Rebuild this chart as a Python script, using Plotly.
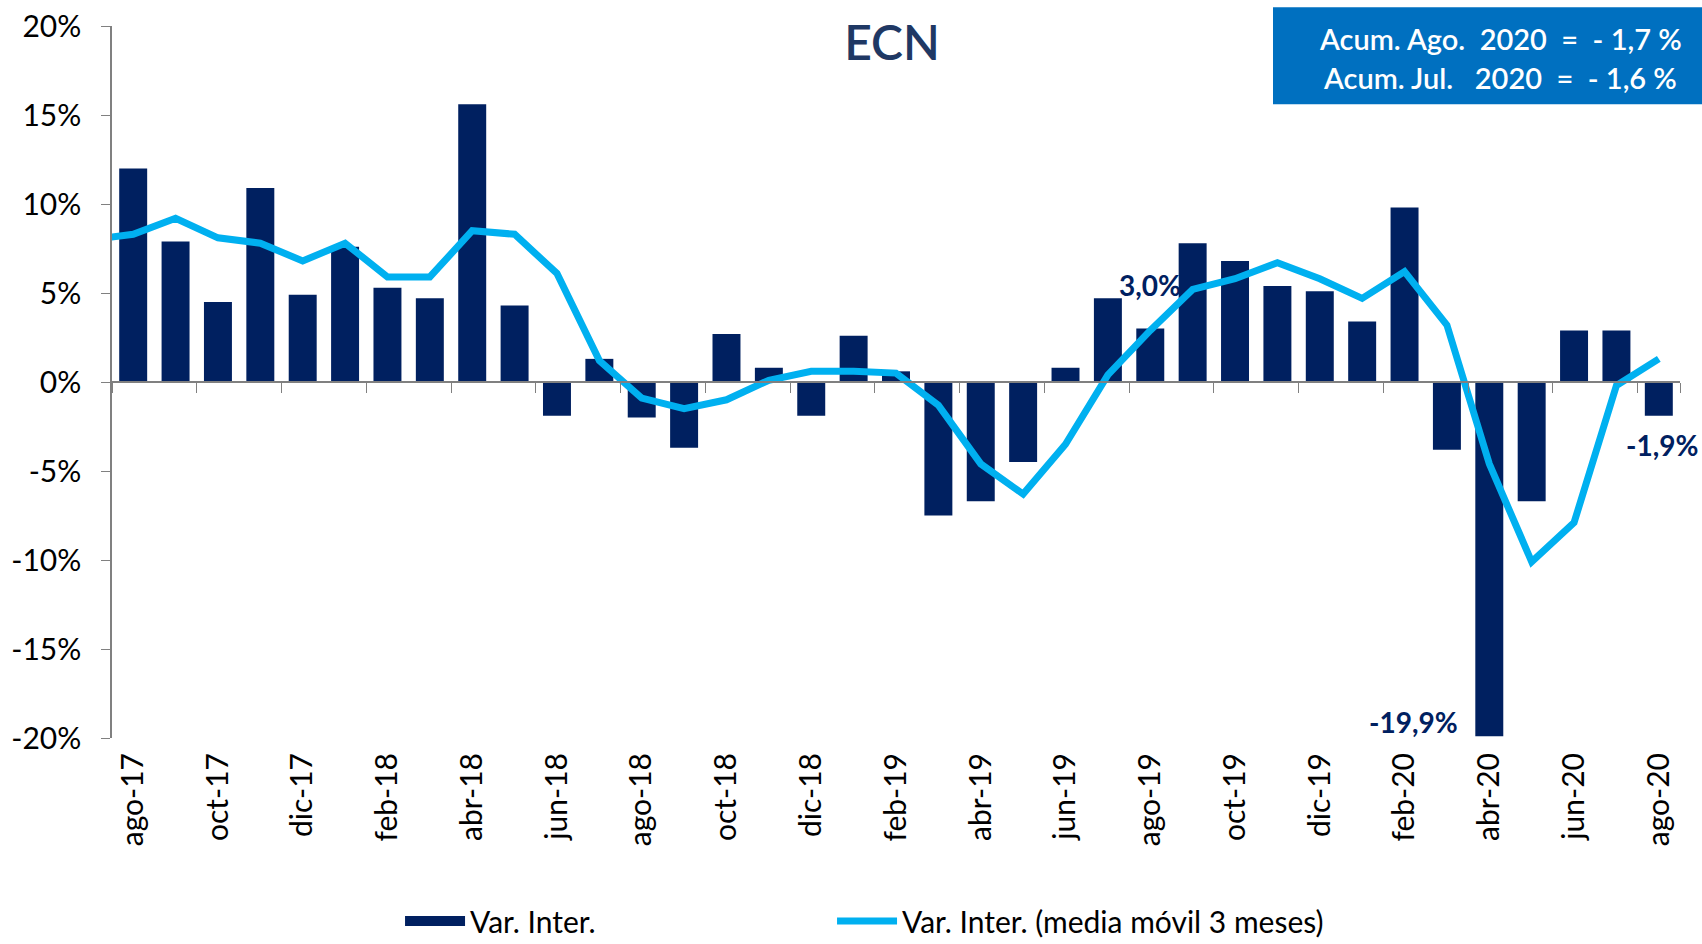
import plotly.graph_objects as go

months = ["ago-17","sep-17","oct-17","nov-17","dic-17","ene-18","feb-18","mar-18","abr-18","may-18",
          "jun-18","jul-18","ago-18","sep-18","oct-18","nov-18","dic-18","ene-19","feb-19","mar-19",
          "abr-19","may-19","jun-19","jul-19","ago-19","sep-19","oct-19","nov-19","dic-19","ene-20",
          "feb-20","mar-20","abr-20","may-20","jun-20","jul-20","ago-20"]

var_inter = [12.0, 7.9, 4.5, 10.9, 4.9, 7.6, 5.3, 4.7, 15.6, 4.3,
             -1.9, 1.3, -2.0, -3.7, 2.7, 0.8, -1.9, 2.6, 0.6, -7.5,
             -6.7, -4.5, 0.8, 4.7, 3.0, 7.8, 6.8, 5.4, 5.1, 3.4,
             9.8, -3.8, -19.9, -6.7, 2.9, 2.9, -1.9]

media_movil = [8.3, 9.2, 8.1, 7.8, 6.8, 7.8, 5.9, 5.9, 8.5, 8.3,
               6.1, 1.2, -0.9, -1.5, -1.0, 0.1, 0.6, 0.6, 0.5, -1.3,
               -4.6, -6.3, -3.5, 0.4, 2.9, 5.2, 5.8, 6.7, 5.8, 4.7,
               6.2, 3.2, -4.6, -10.1, -7.9, -0.2, 1.3]
media_movil_jul17 = 8.0  # previous month, only its segment into the chart is visible

y_ticks = [-20, -15, -10, -5, 0, 5, 10, 15, 20]
y_labels = ["-20%", "-15%", "-10%", "-5%", "0%", "5%", "10%", "15%", "20%"]

labels = [("3,0%", 24), ("-19,9%", 32), ("-1,9%", 36)]

FONT = "Lato"
NAVY = "#002060"
CYAN = "#00B0F0"

x = list(range(len(months)))

fig = go.Figure()
fig.add_trace(go.Bar(x=x, y=var_inter, name="Var. Inter.", marker=dict(color=NAVY, line=dict(width=0)),
                     width=0.66, showlegend=False, legendgroup="bar"))
# legend swatch for the bars (wide rectangle like the original)
fig.add_trace(go.Scatter(x=[None], y=[None], mode="lines", name="Var. Inter.", legendgroup="bar",
                         line=dict(color=NAVY, width=17), legend="legend"))
fig.add_trace(go.Scatter(x=[-1] + x, y=[media_movil_jul17] + media_movil, mode="lines",
                         name="Var. Inter. (media móvil 3 meses)",
                         line=dict(color=CYAN, width=7), legend="legend2"))
# zero axis with tick marks
fig.add_trace(go.Scatter(x=[x[0]], y=[0], xaxis="x2", mode="markers", marker=dict(opacity=0),
                         showlegend=False, hoverinfo="skip"))

legend_common = dict(orientation="h", xanchor="left", y=-0.257, yanchor="middle",
                     font=dict(size=30, color="black"), itemwidth=60, bgcolor="rgba(0,0,0,0)")

fig.update_layout(
    width=1702, height=944,
    margin=dict(l=112, r=22, t=26, b=206, autoexpand=False),
    plot_bgcolor="white", paper_bgcolor="white",
    font=dict(family=FONT, color="black", size=30),
    bargap=0.34,
    title=dict(text="ECN", x=892/1702, xref="container", xanchor="center",
               y=1-43/944, yref="container", yanchor="middle",
               font=dict(family=FONT, size=48, color="#1F3864", weight=600)),
    xaxis=dict(range=[-0.5, 36.5], tickvals=x[::2], ticktext=months[::2], tickangle=-90,
               showline=False, ticks="", showgrid=False, zeroline=False, automargin=False,
               tickfont=dict(size=30, color="black"), ticklabelstandoff=8),
    xaxis2=dict(overlaying="x", anchor="free", position=0.5, range=[-0.5, 36.5],
                tickvals=[v - 0.5 for v in x[::2]] + [36.5], ticks="outside", ticklen=10,
                tickcolor="#808080", showticklabels=False, showline=True, linecolor="#808080",
                linewidth=1.5, showgrid=False, zeroline=False, side="bottom", automargin=False),
    yaxis=dict(range=[-20, 20], tickvals=y_ticks, ticktext=y_labels, showgrid=False,
               zeroline=False, showline=True, linecolor="#808080", linewidth=1.5,
               ticks="outside", ticklen=9, tickcolor="#808080", automargin=False,
               tickfont=dict(size=30, color="black"), ticklabelstandoff=14),
    legend=dict(x=0.1837, **legend_common),
    legend2=dict(x=0.1837 + 432/1568, **legend_common),
    showlegend=True,
)

for txt, i in labels:
    v = var_inter[i]
    f = dict(size=28, color=NAVY, family=FONT, weight="bold")
    if i == 24:
        fig.add_annotation(x=i, y=v, text=txt, showarrow=False, yanchor="bottom", yshift=25, font=f)
    elif i == 32:
        fig.add_annotation(x=i, y=v, text=txt, showarrow=False, xanchor="right", yanchor="middle",
                           xshift=-29, yshift=14, font=f)
    else:
        fig.add_annotation(x=i, y=v, text=txt, showarrow=False, xanchor="center", yanchor="middle",
                           xshift=3, yshift=-29, font=f)

# accumulated box
fig.add_shape(type="rect", xref="paper", yref="paper",
              x0=(1273-112)/1568, x1=(1702-112)/1568, y0=(737.7-104)/712, y1=(737.7-7)/712,
              fillcolor="#0070C0", line=dict(width=0), layer="above")
nb = "\u00a0"
fig.add_annotation(xref="paper", yref="paper", x=(1684-112)/1568, y=(737.7-38)/712,
                   xanchor="right", yanchor="middle", showarrow=False,
                   text=f"Acum. Ago.{nb*2}2020{nb*2}={nb*2}- 1,7 %",
                   font=dict(size=29, color="white", family=FONT, weight=600))
fig.add_annotation(xref="paper", yref="paper", x=(1679-112)/1568, y=(737.7-77)/712,
                   xanchor="right", yanchor="middle", showarrow=False,
                   text=f"Acum. Jul.{nb*3}2020{nb*2}={nb*2}- 1,6 %",
                   font=dict(size=29, color="white", family=FONT, weight=600))

fig.write_html("out.html", config={"displayModeBar": False},
               post_script="document.body.style.margin='0';")
